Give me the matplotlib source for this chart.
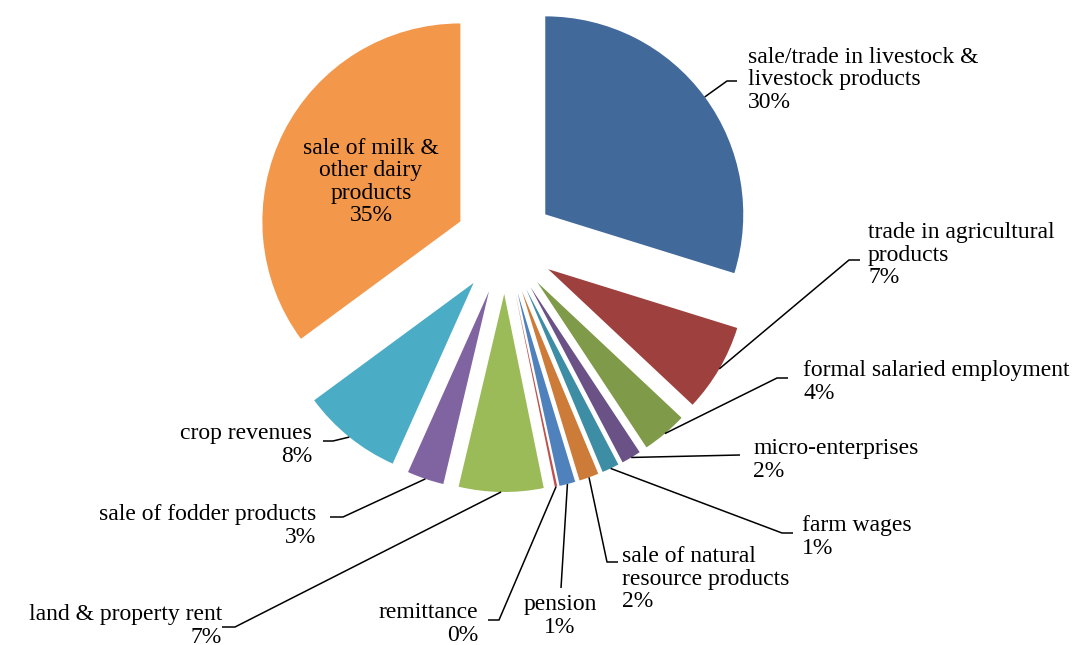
import numpy as np
import matplotlib.pyplot as plt

# income sources, clockwise from 12 o'clock
categories = ["sale/trade in livestock &\nlivestock products",
              "trade in agricultural\nproducts",
              "formal salaried employment",
              "micro-enterprises",
              "farm wages",
              "sale of natural\nresource products",
              "pension",
              "remittance",
              "land & property rent",
              "sale of fodder products",
              "crop revenues",
              "sale of milk &\nother dairy\nproducts"]
shares = [29.8, 7.2, 3.7, 1.6, 1.4, 1.6, 1.3, 0.2, 6.9, 3.0, 8.2, 35.1]
pct_labels = ["30%", "7%", "4%", "2%", "1%", "2%", "1%", "0%", "7%", "3%", "8%", "35%"]
colors = ["#416A9B", "#9E413E", "#7F9A48", "#6A5186", "#3D8EA5", "#CC7B38",
          "#4F81BD", "#C0504D", "#9BBB59", "#8064A2", "#4BACC6", "#F3974A"]

W, H = 1076, 645
CX, CY, R = 505, 244, 198
EXPLODE = 50

def Y(y):
    return H - y

plt.rcParams['font.family'] = ['Liberation Serif', 'DejaVu Serif']

fig = plt.figure(figsize=(W / 100, H / 100), dpi=100)
ax = fig.add_axes([0, 0, 1, 1])

# pie explode is in data units, here pixels
wedges, _ = ax.pie(shares, colors=colors, startangle=90, counterclock=False,
                   radius=R, center=(CX, Y(CY)),
                   explode=[EXPLODE] * len(shares),
                   wedgeprops=dict(linewidth=0))
ax.set_xlim(0, W)
ax.set_ylim(0, H)
ax.set_aspect('equal')
ax.axis('off')

# (text_x, text_block_center_y, ha, elbow, end) in pixels from top-left
label_specs = [
    (748, 80, 'left', (727, 81), (737, 81)),
    (868, 255, 'left', (849, 260), (860, 260)),
    (803, 382, 'left', (777, 378), (788, 378)),
    (753, 460, 'left', None, (740, 455)),
    (802, 537, 'left', (782, 533), (793, 533)),
    (622, 579, 'left', (607, 562), (618, 562)),
    (560, 616, 'center', None, (561, 588)),
    (478, 624, 'right', (499, 620), (488, 620)),
    (222, 626, 'right', (235, 627), (222, 627)),
    (316, 526, 'right', (343, 517), (330, 517)),
    (312, 445, 'right', (333, 441), (323, 441)),
    (371, 182, 'center', None, None),
]

FS = 17
for w, cat, pct, spec in zip(wedges, categories, pct_labels, label_specs):
    tx, ty, ha, elbow, end = spec
    ax.text(tx, Y(ty), cat + "\n" + pct, ha=ha, va='center',
            multialignment=ha, fontsize=FS, linespacing=1.1, color='black')
    if end is None:
        continue
    mid = np.deg2rad((w.theta1 + w.theta2) / 2)
    sx = w.center[0] + w.r * np.cos(mid)
    sy = w.center[1] + w.r * np.sin(mid)
    xs, ys = [sx], [sy]
    if elbow is not None:
        xs.append(elbow[0])
        ys.append(Y(elbow[1]))
    xs.append(end[0])
    ys.append(Y(end[1]))
    ax.plot(xs, ys, color='black', lw=1.1, solid_capstyle='butt')

plt.savefig("out.png", dpi=100)
